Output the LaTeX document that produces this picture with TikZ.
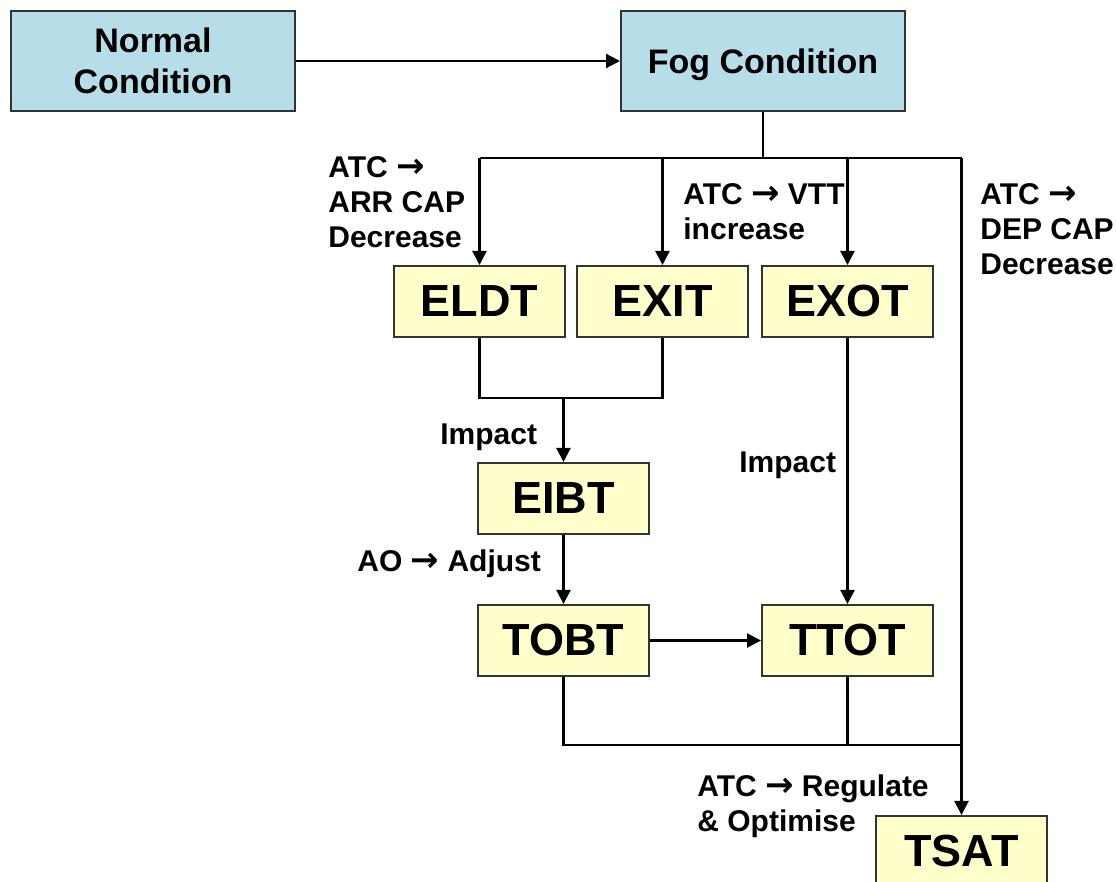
\documentclass[tikz,border=0pt]{standalone}
\usepackage{fontspec}
\setmainfont{Liberation Sans}
\newfontfamily\arrowfont{DejaVu Sans}
\usetikzlibrary{arrows.meta, positioning}
\definecolor{fogblue}{RGB}{183,222,232}
\definecolor{timeyellow}{RGB}{255,255,204}
\newcommand{\rarr}{{\arrowfont\bfseries\fontsize{17}{17}\selectfont →}}

\begin{document}
\begin{tikzpicture}[
	x=0.5pt, y=-0.5pt,
	% --- STYLES ---
	condbox/.style={
		draw=black!80,
		line width=1pt,
		fill=fogblue,
		minimum width=142pt,
		minimum height=50pt,
		inner sep=0pt,
		align=center,
		font=\fontsize{17}{20.5}\selectfont\bfseries
	},
	timebox/.style={
		draw=black!80,
		line width=1pt,
		fill=timeyellow,
		minimum width=85.5pt,
		minimum height=35.5pt,
		inner sep=0pt,
		font=\fontsize{22.5}{26}\selectfont\bfseries
	},
	% arrows and plain joins
	line/.style={
		-{Triangle[length=7pt, width=7pt]},
		line width=1.1pt
	},
	wire/.style={
		line width=1.1pt
	},
	% text beside the connectors
	lbl/.style={
		inner sep=0pt,
		align=left,
		font=\fontsize{15}{17.5}\selectfont\bfseries
	}
	]

	\useasboundingbox (0,0) rectangle (1116,882);

	% --- Nodes ---
	\node[condbox] (normal) at (153,61) {Normal\\Condition};
	\node[condbox, text depth=0pt, right=162pt of normal] (fog) {Fog Condition};
	\node[timebox] (eldt) at (479.5,301.5) {ELDT};
	\node[timebox, right=5pt of eldt] (exit) {EXIT};
	\node[timebox, right=6pt of exit] (exot) {EXOT};
	\node[timebox] (eibt) at (563.5,498.5) {EIBT};
	\node[timebox, below=34.5pt of eibt] (tobt) {TOBT};
	\node[timebox] (ttot) at (exot |- tobt) {TTOT};
	\node[timebox] (tsat) at (961.5,851.5) {TSAT};

	% --- Junction levels ---
	\coordinate (bus) at (0,158);
	\coordinate (merge) at (0,398);
	\coordinate (join) at (0,745);

	% --- Connections ---
	\draw[line] (normal) -- (fog);
	\draw[wire] (fog.south) -- (fog.south |- bus);
	\draw[wire] (eldt.north |- bus) -- (tsat.north |- bus);
	\draw[line] (eldt.north |- bus) -- (eldt.north);
	\draw[line] (exit.north |- bus) -- (exit.north);
	\draw[line] (exot.north |- bus) -- (exot.north);
	\draw[line] (tsat.north |- bus) -- (tsat.north);
	\draw[wire] (eldt.south) -- (eldt.south |- merge) -- (exit.south |- merge) -- (exit.south);
	\draw[line] (eibt.north |- merge) -- (eibt.north);
	\draw[line] (eibt) -- (tobt);
	\draw[line] (exot) -- (ttot);
	\draw[line] (tobt) -- (ttot);
	\draw[wire] (tobt.south) -- (tobt.south |- join) -- (tsat.north |- join);
	\draw[wire] (ttot.south) -- (ttot.south |- join);

	% --- Labels (base = last line) ---
	\node[lbl, anchor=base west] (arrcap) at (328,248) {ATC \rarr\\ARR CAP\\Decrease};
	\node[lbl, anchor=base west] (vtt) at (683,240) {ATC \rarr{} VTT\\increase};
	\node[lbl, anchor=base west] (depcap) at (980,275) {ATC \rarr\\DEP CAP\\Decrease};
	\node[lbl, anchor=base west] (impacta) at (440,445) {Impact};
	\node[lbl, anchor=base west] (impactb) at (739,473) {Impact};
	\node[lbl, anchor=base west] (adjust) at (357,572) {AO \rarr{} Adjust};
	\node[lbl, anchor=base west] (regulate) at (697,832) {ATC \rarr{} Regulate\\\& Optimise};

\end{tikzpicture}
\end{document}
